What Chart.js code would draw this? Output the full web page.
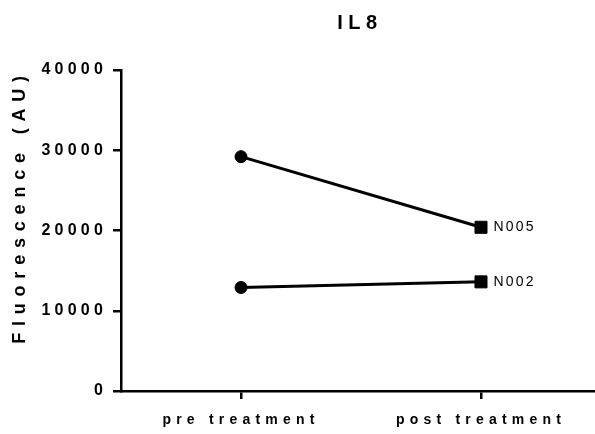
<!DOCTYPE html>
<html>
<head>
<meta charset="utf-8">
<title>IL8</title>
<script src="https://cdn.jsdelivr.net/npm/chart.js@4"></script>
<style>
  html, body { margin: 0; padding: 0; background: #ffffff; }
  #wrap { width: 595px; height: 434px; }
</style>
</head>
<body>
<div id="wrap"><canvas id="chart" width="595" height="434"></canvas></div>
<script>
// Paired measurements, one line per subject
const groups = ['pre treatment', 'post treatment'];
const subjects = ['N005', 'N002'];
const preValues = [29200, 12900];
const postValues = [20400, 13600];
const yTickValues = [0, 10000, 20000, 30000, 40000];

const FONT = '"Liberation Sans", Arial, Helvetica, sans-serif';

// Canvas letter spacing for each text element
const SPACING = { title: '5.5px', yTicks: '4.2px', xTicks: '5.2px', yTitle: '6.8px', labels: '2.2px' };

function withSpacing(obj, method, spacing, shift) {
  const original = obj[method];
  obj[method] = function (...args) {
    const ctx = this.ctx;
    ctx.save();
    ctx.letterSpacing = spacing;
    if (shift) ctx.translate(shift[0], shift[1]);
    original.apply(this, args);
    ctx.restore();
  };
}

const spacingPlugin = {
  id: 'spacing',
  beforeDraw(chart) {
    const xs = chart.scales.x, ys = chart.scales.y, tb = chart.titleBlock;
    if (tb && !tb._spaced) {
      withSpacing(tb, 'draw', SPACING.title, [2, 0]);
      tb._spaced = true;
    }
    if (xs && !xs._spaced) {
      withSpacing(xs, 'drawLabels', SPACING.xTicks);
      xs._spaced = true;
    }
    if (ys && !ys._spaced) {
      withSpacing(ys, 'drawLabels', SPACING.yTicks);
      withSpacing(ys, 'drawTitle', SPACING.yTitle, [0, -24]);
      ys._spaced = true;
    }
  }
};

// Subject names next to the last point of each line
const endLabels = {
  id: 'endLabels',
  afterDatasetsDraw(chart) {
    const ctx = chart.ctx;
    ctx.save();
    ctx.letterSpacing = SPACING.labels;
    ctx.font = '14px ' + FONT;
    ctx.fillStyle = '#000';
    ctx.textAlign = 'left';
    ctx.textBaseline = 'middle';
    chart.data.datasets.forEach((ds, i) => {
      const meta = chart.getDatasetMeta(i);
      const pt = meta.data[meta.data.length - 1];
      ctx.fillText(subjects[i], pt.x + 12.5, pt.y);
    });
    ctx.restore();
  }
};

const datasets = subjects.map((name, i) => ({
  label: name,
  data: [
    { x: 0, y: preValues[i] },
    { x: 1, y: postValues[i] }
  ],
  borderColor: '#000',
  backgroundColor: '#000',
  borderWidth: 3,
  pointStyle: ['circle', 'rect'],
  pointRadius: [6, 8.5],
  pointBorderWidth: 1,
  pointBackgroundColor: '#000',
  pointBorderColor: '#000',
  tension: 0,
  clip: false
}));

new Chart(document.getElementById('chart'), {
  type: 'line',
  data: { datasets },
  plugins: [spacingPlugin, endLabels],
  options: {
    responsive: false,
    animation: false,
    events: [],
    layout: { padding: 0, autoPadding: false },
    plugins: {
      legend: { display: false },
      tooltip: { enabled: false },
      title: {
        display: true,
        text: 'IL8',
        fullSize: false,
        color: '#000',
        font: { family: FONT, size: 20, weight: 'bold', lineHeight: 1.2 },
        padding: { top: 11, bottom: 35 }
      }
    },
    scales: {
      x: {
        type: 'linear',
        min: -0.5,
        max: 1.475,
        afterBuildTicks: (scale) => { scale.ticks = groups.map((_, i) => ({ value: i })); },
        afterFit: (scale) => {
          scale.height = 43;
          scale.paddingLeft = 0;
          scale.paddingRight = 0;
        },
        ticks: {
          color: '#000',
          padding: 13,
          maxRotation: 0,
          font: { family: FONT, size: 14, weight: 'bold' },
          callback: (v) => groups[v] ?? ''
        },
        grid: {
          drawOnChartArea: false,
          drawTicks: true,
          tickLength: 8,
          color: '#000',
          lineWidth: 2.5
        },
        border: { display: true, color: '#000', width: 2.5 }
      },
      y: {
        min: 0,
        max: 40000,
        afterBuildTicks: (scale) => { scale.ticks = yTickValues.map((v) => ({ value: v })); },
        afterFit: (scale) => {
          scale.width = 121;
          scale.paddingTop = 0;
          scale.paddingBottom = 0;
        },
        ticks: {
          color: '#000',
          padding: 6,
          font: { family: FONT, size: 16, weight: 'bold' },
          callback: (v) => String(v)
        },
        grid: {
          drawOnChartArea: false,
          drawTicks: true,
          tickLength: 8,
          color: '#000',
          lineWidth: 2.5
        },
        border: { display: true, color: '#000', width: 2.5 },
        title: {
          display: true,
          text: 'Fluorescence (AU)',
          color: '#000',
          font: { family: FONT, size: 18, weight: 'bold', lineHeight: 1.2 },
          padding: { top: 9, bottom: 0 }
        }
      }
    }
  }
});
</script>
</body>
</html>
